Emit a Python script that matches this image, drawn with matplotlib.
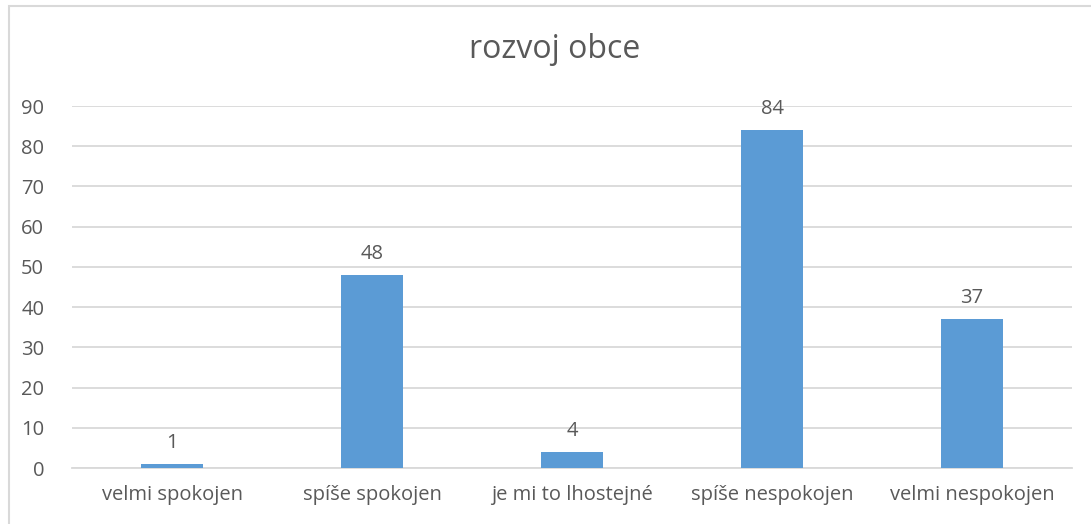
import matplotlib.pyplot as plt
import matplotlib.patches as patches

# data
categories = ["velmi spokojen", "spíše spokojen", "je mi to lhostejné",
              "spíše nespokojen", "velmi nespokojen"]
values = [1, 48, 4, 84, 37]
yticks = [0, 10, 20, 30, 40, 50, 60, 70, 80, 90]

plt.rcParams['font.family'] = ['Open Sans', 'DejaVu Sans']
txt = '#595959'
grid = '#d9d9d9'

W, H = 1091, 524
fig = plt.figure(figsize=(W/100, H/100), dpi=100)
ax = fig.add_axes([72/W, 1-468/H, 1000/W, (468-106)/H])

x = list(range(len(categories)))
bars = ax.bar(x, values, width=0.31, color='#5b9bd5', zorder=3)

for xi, v in zip(x, values):
    ax.annotate(str(v), (xi, v), xytext=(0, 8), textcoords='offset points',
                ha='center', va='bottom', fontsize=14.5, color=txt)

ax.set_xlim(-0.5, len(categories)-0.5)
ax.set_ylim(0, 90)
ax.set_yticks(yticks)
ax.set_xticks(x)
ax.set_xticklabels(categories)
ax.tick_params(axis='both', length=0, labelsize=14.5, colors=txt)
ax.tick_params(axis='y', pad=20)
ax.tick_params(axis='x', pad=12)
ax.yaxis.grid(True, color=grid, lw=1.3, zorder=0)
for s in ['top', 'right', 'left']:
    ax.spines[s].set_visible(False)
ax.spines['bottom'].set_color(grid)
ax.spines['bottom'].set_linewidth(1.3)

fig.text(555/W, 1-50/H, "rozvoj obce", ha='center', va='center',
         fontsize=23, color=txt)

# chart border (cropped on right and bottom)
border = patches.Rectangle((8.5/W, -0.1), 1.2, 1.1 - 6.5/H, transform=fig.transFigure,
                           fill=False, edgecolor=grid, lw=1.5)
fig.patches.append(border)

plt.savefig("out.png", dpi=100)
plt.close()
